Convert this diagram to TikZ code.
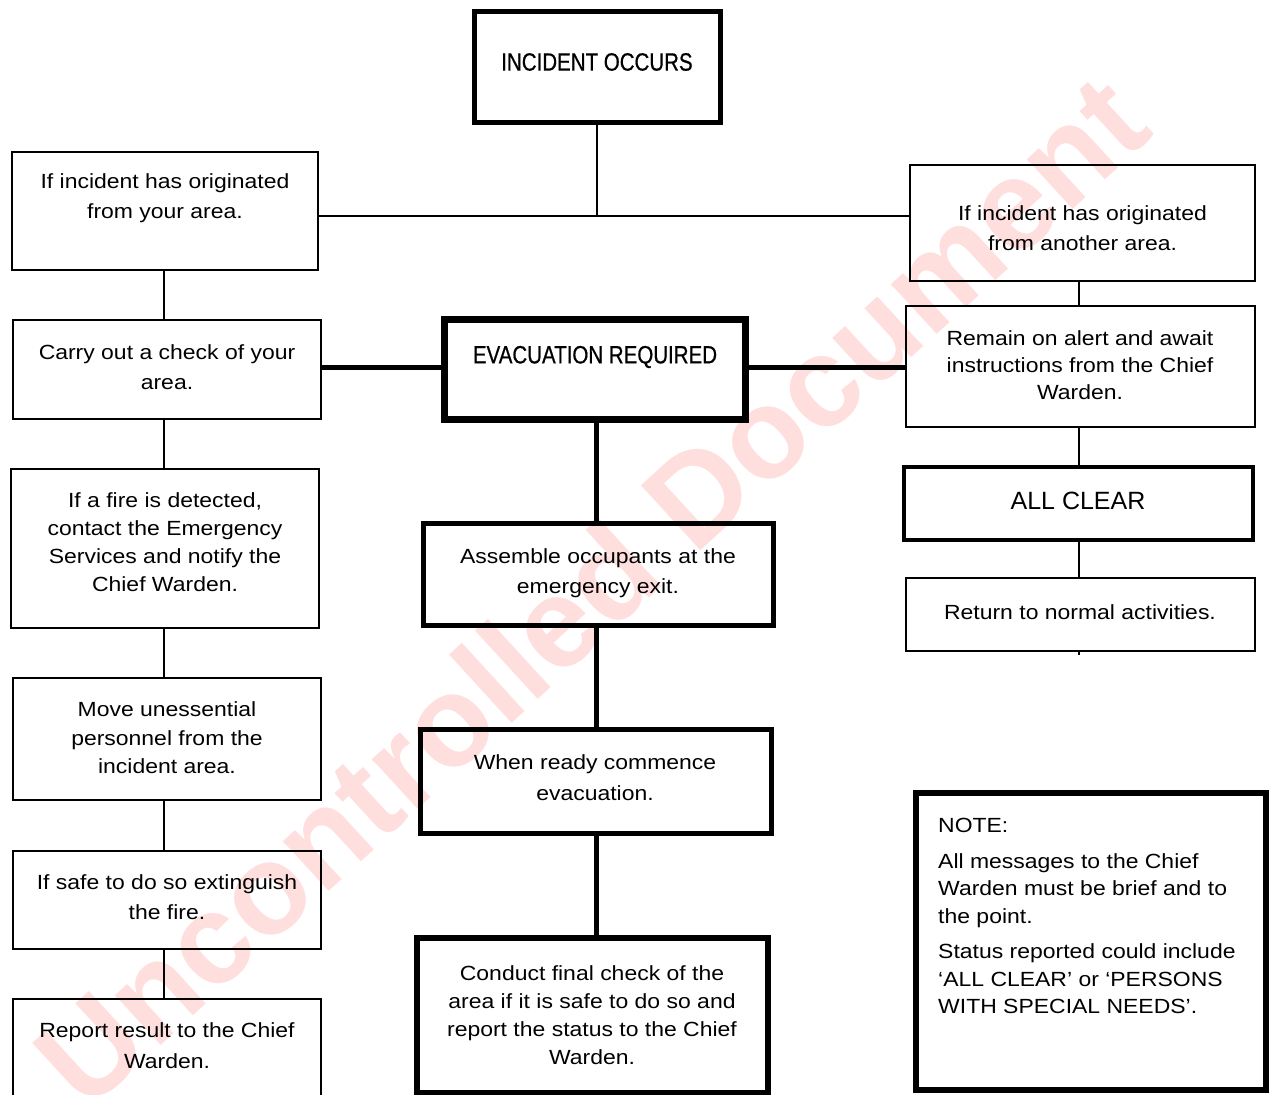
\documentclass[tikz,border=0pt]{standalone}
\usepackage{fontspec}
\setmainfont{Liberation Sans}[FakeStretch=1.12]
\newfontfamily\headfont{Liberation Sans}[FakeStretch=0.82,FakeBold=0.6]
\newfontfamily\plainfont{Liberation Sans}
\newfontfamily\wmfont{Liberation Sans}
\begin{document}
\begin{tikzpicture}[x=1pt,y=-1pt,
  thinbox/.style={draw, line width=1.8pt, rectangle, inner sep=0pt},
  thickbox/.style={draw, line width=5pt, rectangle, inner sep=0pt},
  txt/.style={align=center, inner sep=0pt, font=\fontsize{20.5}{29}\selectfont},
  headtxt/.style={align=center, inner sep=0pt, font=\headfont\fontsize{25}{30}\selectfont},
  thinline/.style={line width=1.8pt},
  thickline/.style={line width=5pt},
  wm/.style={text=red!13, inner sep=0pt, font=\wmfont\bfseries\fontsize{128}{128}\selectfont}
]
\useasboundingbox (0,0) rectangle (1272,1095);

% watermark
\node[wm, rotate=42.5] (wmark) at (590,590) {Uncontrolled Document};

% boxes
\node[thickbox, minimum width=246pt, minimum height=111pt] (inc) at (597,66.5) {};
\node[headtxt] (inct) at (597,62) {INCIDENT OCCURS};

\node[thinbox, minimum width=306pt, minimum height=118pt] (l1) at (165,211) {};
\node[txt, font=\fontsize{20.5}{30}\selectfont] (l1t) at (165,198) {If incident has originated\\from your area.};

\node[thinbox, minimum width=345pt, minimum height=116pt] (r1) at (1082.5,223) {};
\node[txt, font=\fontsize{20.5}{30}\selectfont] (r1t) at (1082.5,228) {If incident has originated\\from another area.};

\node[thinbox, minimum width=308pt, minimum height=99pt] (l2) at (167,369.5) {};
\node[txt, font=\fontsize{20.5}{30}\selectfont] (l2t) at (167,367) {Carry out a check of your\\area.};

\node[draw, line width=7pt, rectangle, inner sep=0pt, minimum width=301pt, minimum height=100pt] (evac) at (594.5,369) {};
\node[headtxt] (evact) at (595,357) {EVACUATION REQUIRED};

\node[thinbox, minimum width=349pt, minimum height=121pt] (r2) at (1080.5,366.5) {};
\node[txt, font=\fontsize{20.5}{27}\selectfont] (r2t) at (1080,365) {Remain on alert and await\\instructions from the Chief\\Warden.};

\node[draw, line width=4pt, rectangle, inner sep=0pt, minimum width=349pt, minimum height=73pt] (clear) at (1078.5,503.5) {};
\node[inner sep=0pt, font=\plainfont\fontsize{25}{30}\selectfont] (cleart) at (1078,501) {ALL CLEAR};

\node[thinbox, minimum width=349pt, minimum height=73pt] (ret) at (1080.5,614.5) {};
\node[txt] (rett) at (1080,612) {Return to normal activities.};

\node[thinbox, minimum width=308pt, minimum height=159pt] (l3) at (165,548.5) {};
\node[txt, font=\fontsize{20.5}{28}\selectfont] (l3t) at (165,542) {If a fire is detected,\\contact the Emergency\\Services and notify the\\Chief Warden.};

\node[thinbox, minimum width=308pt, minimum height=122pt] (l4) at (167,739) {};
\node[txt, font=\fontsize{20.5}{28.5}\selectfont] (l4t) at (167,738) {Move unessential\\personnel from the\\incident area.};

\node[thinbox, minimum width=308pt, minimum height=98pt] (l5) at (167,900) {};
\node[txt, font=\fontsize{20.5}{30}\selectfont] (l5t) at (167,897) {If safe to do so extinguish\\the fire.};

\node[thinbox, minimum width=308pt, minimum height=120pt] (l6) at (167,1059) {};
\node[txt, font=\fontsize{20.5}{31}\selectfont] (l6t) at (167,1046) {Report result to the Chief\\Warden.};

\node[thickbox, minimum width=350pt, minimum height=102pt] (asm) at (598,574) {};
\node[txt, font=\fontsize{20.5}{30}\selectfont] (asmt) at (598,573) {Assemble occupants at the\\emergency exit.};

\node[thickbox, minimum width=351pt, minimum height=104pt] (ready) at (595.5,781) {};
\node[txt, font=\fontsize{20.5}{31}\selectfont] (readyt) at (595,778) {When ready commence\\evacuation.};

\node[draw, line width=6pt, rectangle, inner sep=0pt, minimum width=351pt, minimum height=155pt] (cond) at (592.5,1015.5) {};
\node[txt, font=\fontsize{20.5}{28}\selectfont] (condt) at (592,1015) {Conduct final check of the\\area if it is safe to do so and\\report the status to the Chief\\Warden.};

\node[draw, line width=6pt, rectangle, inner sep=0pt, minimum width=350pt, minimum height=297pt] (note) at (1091,941.5) {};
\node[inner sep=0pt, anchor=north west, align=left, font=\fontsize{20.5}{27.5}\selectfont] (notet) at (938,818)
  {NOTE:\\[8pt]All messages to the Chief\\Warden must be brief and to\\the point.\\[8pt]Status reported could include\\`ALL CLEAR' or `PERSONS\\WITH SPECIAL NEEDS'.};

% connectors
\coordinate (j) at (597,216);
\coordinate (ev) at (597,367);
\draw[thinline] (inc.south) -- (j);
\draw[thinline] (l1.east |- j) -- (r1.west |- j);
\draw[thinline] (164,270) -- (164,320);
\draw[thinline] (164,419) -- (164,469);
\draw[thinline] (164,628) -- (164,678);
\draw[thinline] (164,800) -- (164,851);
\draw[thinline] (164,949) -- (164,999);
\draw[thickline] (l2.east |- ev) -- (evac.west |- ev);
\draw[thickline] (evac.east |- ev) -- (r2.west |- ev);
\draw[thinline] (1079,281) -- (1079,306);
\draw[thinline] (1079,427) -- (1079,467);
\draw[thinline] (1079,540) -- (1079,578);
\draw[thinline] (1079,651) -- (1079,655);
\draw[thickline] (596,419) -- (596,523);
\draw[thickline] (596,625) -- (596,729);
\draw[thickline] (596,833) -- (596,938);
\end{tikzpicture}
\end{document}
